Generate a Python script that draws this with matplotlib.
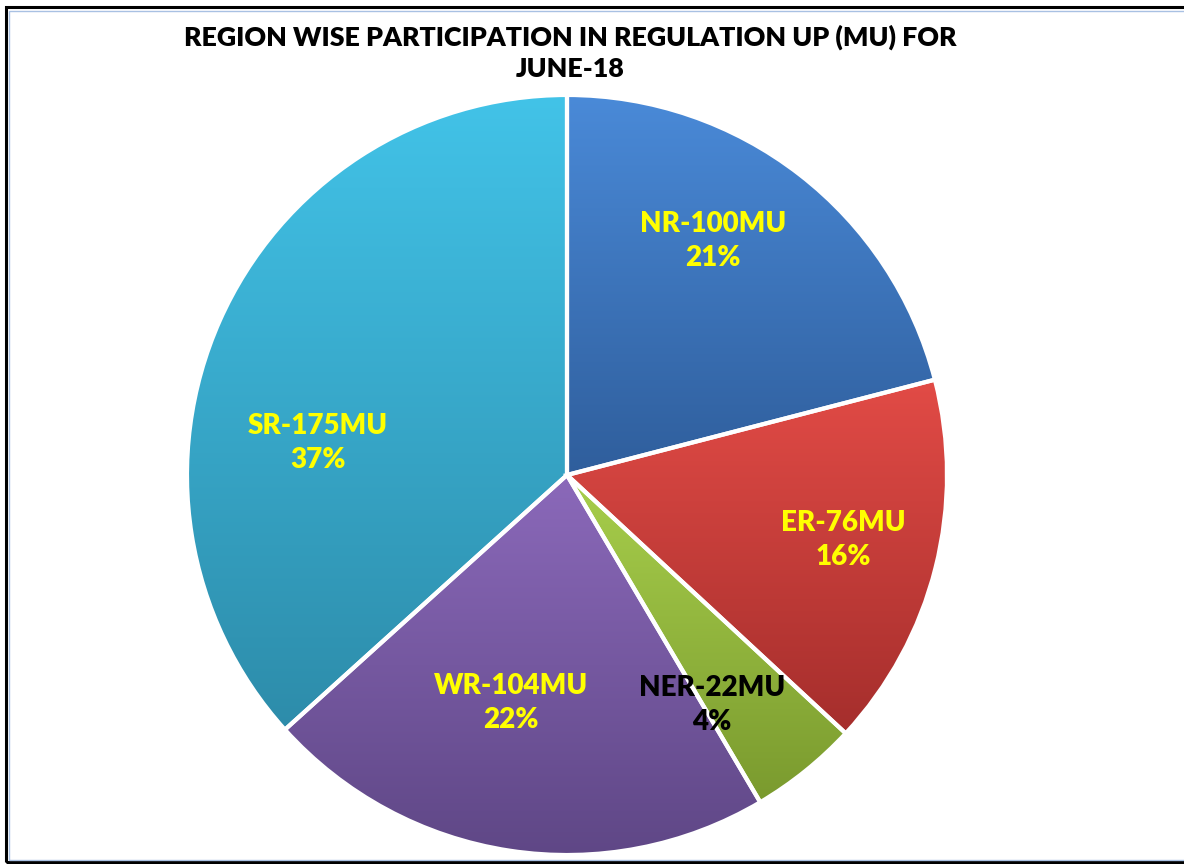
import matplotlib
matplotlib.use('Agg')
import matplotlib.pyplot as plt
import numpy as np
from matplotlib.colors import LinearSegmentedColormap
from matplotlib.patches import Rectangle

# ---- data ----
regions = ['NR', 'ER', 'NER', 'WR', 'SR']
values_mu = [100, 76, 22, 104, 175]
percent_labels = ['21%', '16%', '4%', '22%', '37%']
title_text = 'REGION WISE PARTICIPATION IN REGULATION UP (MU) FOR\nJUNE-18'

# ---- style ----
top_colors = ['#4A8AD8', '#E24B46', '#A8CF4C', '#8B69BA', '#42C3E8']
bottom_colors = ['#2F5E9C', '#A52E2C', '#7A9A2E', '#5F4786', '#2D8CAA']
label_colors = ['#FFFF00', '#FFFF00', '#000000', '#FFFF00', '#FFFF00']
label_xy_px = [(713, 241), (843, 540), (712, 705), (511, 703), (318, 443)]
W, H = 1184, 864
FONT = 'Lato'

fig = plt.figure(figsize=(W / 100, H / 100), dpi=100)
ax = fig.add_axes([0, 0, 1, 1])

wedges, _ = ax.pie(values_mu, startangle=90, counterclock=False,
                   center=(567, H - 475), radius=380,
                   explode=[0.014] * len(values_mu),
                   wedgeprops=dict(edgecolor='white', linewidth=3.0))
ax.set_xlim(0, W)
ax.set_ylim(0, H)
ax.set_aspect('equal')
ax.axis('off')

# gradient fill for each wedge
for w, c0, c1 in zip(wedges, top_colors, bottom_colors):
    path = w.get_path().transformed(w.get_patch_transform())
    ext = path.get_extents()
    cmap = LinearSegmentedColormap.from_list('g', [c1, c0])
    grad = np.linspace(0, 1, 256).reshape(-1, 1)
    im = ax.imshow(grad, cmap=cmap, origin='lower', aspect='auto',
                   extent=(ext.x0, ext.x1, ext.y0, ext.y1), zorder=1,
                   interpolation='bilinear')
    im.set_clip_path(w)
    w.set_facecolor('none')
    w.set_zorder(3)
ax.set_xlim(0, W)
ax.set_ylim(0, H)

# labels
for reg, val, pct, col, (x, y) in zip(regions, values_mu, percent_labels,
                                      label_colors, label_xy_px):
    ax.text(x, H - y, f'{reg}-{val}MU\n{pct}', ha='center', va='center',
            color=col, fontsize=20, fontweight='heavy', family=FONT,
            linespacing=1.4, zorder=5)

# title
fig.text(570 / W, 1 - 53 / H, title_text, ha='center', va='center',
         fontsize=19.3, fontweight='heavy', family=FONT, color='black',
         linespacing=1.35)

# frame
fig.patches.append(Rectangle((6 / W, 2 / H), 1.2, (860 - 8) / H + 0.004,
                             transform=fig.transFigure, fill=False,
                             edgecolor='black', linewidth=2.2))
fig.patches.append(Rectangle((8.5 / W, 4.5 / H), 1.2, (860 - 13) / H + 0.002,
                             transform=fig.transFigure, fill=False,
                             edgecolor='#A9C1E3', linewidth=1.0))

fig.savefig('out.png', dpi=100, facecolor='white')
